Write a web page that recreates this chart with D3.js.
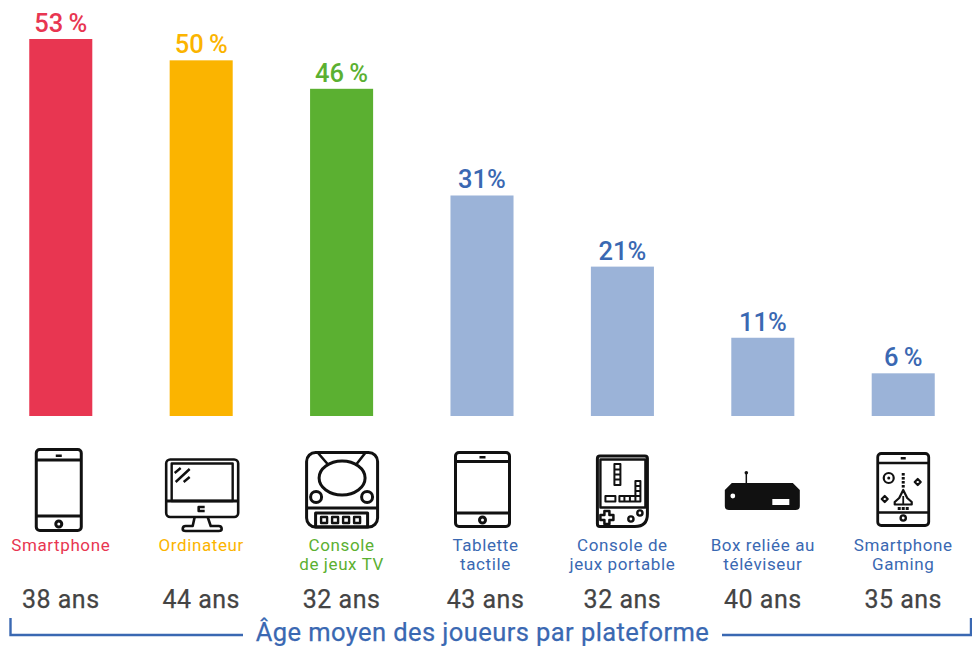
<!DOCTYPE html>
<html><head><meta charset="utf-8">
<script src="https://cdn.jsdelivr.net/npm/d3@7"></script>
<style>html,body{margin:0;background:#fff}svg{display:block}text{font-family:Roboto,sans-serif}</style>
</head><body><svg id="c" width="972" height="646"></svg>
<script>
const categories=["Smartphone","Ordinateur","Console de jeux TV","Tablette tactile","Console de jeux portable","Box reliée au téléviseur","Smartphone Gaming"];
const labelLines=[["Smartphone"],["Ordinateur"],["Console","de jeux TV"],["Tablette","tactile"],["Console de","jeux portable"],["Box reliée au","téléviseur"],["Smartphone","Gaming"]];
const shares=[53,50,46,31,21,11,6];
const shareLabels=["53\u2009%","50\u2009%","46\u2009%","31%","21%","11%","6\u2009%"];
const ages=[38,44,32,43,32,40,35];
const barColors=["#e83651","#fbb400","#5bb031","#9bb3d8","#9bb3d8","#9bb3d8","#9bb3d8"];
const textColors=["#e83651","#fbb400","#5bb031","#3a68b2","#3a68b2","#3a68b2","#3a68b2"];
const axisTitle="Âge moyen des joueurs par plateforme";
const blue="#3a68b2",ink="#111";

const svg=d3.select("#c");
const x=d3.scaleBand().domain(categories).range([-9.5,973.5]).paddingInner(0.551).paddingOuter(0.276);
const y=d3.scaleLinear().domain([0,53]).range([416,39]);
const cx=c=>x(c)+x.bandwidth()/2;
// The tablet column's texts sit slightly right of its bar in the reference
const textX=(c,i)=>cx(c)+(i===3?3.5:0);

svg.selectAll("rect.bar").data(categories).join("rect").attr("class","bar")
 .attr("x",c=>x(c)).attr("width",x.bandwidth())
 .attr("y",(c,i)=>y(shares[i])).attr("height",(c,i)=>y(0)-y(shares[i]))
 .attr("fill",(c,i)=>barColors[i]);

svg.selectAll("text.val").data(categories).join("text").attr("class","val")
 .attr("x",cx).attr("y",(c,i)=>y(shares[i])-7)
 .attr("text-anchor","middle").attr("font-size",25.5).attr("font-weight",500)
 .attr("fill",(c,i)=>textColors[i]).text((c,i)=>shareLabels[i]);

svg.selectAll("text.cat").data(categories).join("text").attr("class","cat")
 .attr("text-anchor","middle").attr("font-size",17).attr("letter-spacing",0.6)
 .attr("fill",(c,i)=>textColors[i])
 .each(function(c,i){
   d3.select(this).selectAll("tspan").data(labelLines[i]).join("tspan")
    .attr("x",textX(c,i)).attr("y",(l,k)=>551+k*19).text(l=>l);
 });

svg.selectAll("text.age").data(categories).join("text").attr("class","age")
 .attr("x",textX).attr("y",608).attr("text-anchor","middle").attr("font-size",25).attr("letter-spacing",0.5)
 .attr("stroke","#444").attr("stroke-width",0.25)
 .attr("fill","#444").text((c,i)=>ages[i]+" ans");

svg.append("text").attr("x",482.5).attr("y",640.5).attr("text-anchor","middle")
 .attr("font-size",25.5).attr("letter-spacing",0.42).attr("stroke",blue).attr("stroke-width",0.25).attr("fill",blue).text(axisTitle);
const br=d3.path();br.moveTo(10.5,618);br.lineTo(10.5,635);br.lineTo(243,635);
br.moveTo(722,635);br.lineTo(971,635);br.lineTo(971,618);
svg.append("path").attr("d",br.toString()).attr("fill","none").attr("stroke",blue).attr("stroke-width",2.4);

// Pictograms, each drawn in local coordinates around its own origin
const icon=(i,dx,top)=>svg.append("g")
  .attr("transform",`translate(${cx(categories[i])+dx},${top})`)
  .attr("fill","none").attr("stroke",ink).attr("stroke-width",3).attr("stroke-linejoin","round");
const R=(g,a,b,w,h,r=0,o={})=>{const e=g.append("rect").attr("x",a).attr("y",b).attr("width",w).attr("height",h).attr("rx",r);for(const k in o)e.attr(k,o[k]);return e;};
const L=(g,d,o={})=>{const e=g.append("path").attr("d",d);for(const k in o)e.attr(k,o[k]);return e;};
const C=(g,a,b,r,o={})=>{const e=g.append("circle").attr("cx",a).attr("cy",b).attr("r",r);for(const k in o)e.attr(k,o[k]);return e;};
const solid={fill:ink,stroke:"none"};

// Smartphone
{const g=icon(0,-2,448);
 R(g,-22.5,1.5,45,81,3.5);
 L(g,"M-22.5 12H22.5M-22.5 68H22.5");
 R(g,-3,6.5,6,2.5,0,solid);
 C(g,0,76,3);}
// Ordinateur
{const g=icon(1,0.5,458);
 R(g,-35.5,1.5,72,57.5,4,{"stroke-width":2.6});
 R(g,-30,5.5,61,37.5,0,{"stroke-width":2.4});
 L(g,"M-35.5 43H36.5",{"stroke-width":3});
 L(g,"M-27 15L-21 10M-26 24L-12 11M-18 24L-12 19",{"stroke-width":2.4});
 L(g,"M3 49H-3V53H3",{"stroke-width":2.6});
 L(g,"M-7 59L-9 68H-16Q-19 68 -19 71Q-19 73 -16 73H17Q20 73 20 71Q20 68 17 68H9L6 59",{"stroke-width":2.6});}
// Console TV
{const g=icon(2,0,451);
 R(g,-35,1.5,71,74.5,9);
 L(g,"M-35 57H36");
 g.append("ellipse").attr("cx",0.5).attr("cy",27).attr("rx",23).attr("ry",17);
 L(g,"M-24 1.5L-14 13M24 1.5L15 13",{"stroke-width":2.6});
 C(g,-25.5,46,5.5,{fill:"#fff"});C(g,25.5,46,5.5,{fill:"#fff"});
 R(g,-26,62,52,14,0);
 [-20.5,-9.5,1.5,12.5].forEach(v=>R(g,v,66,6,6,0,{"stroke-width":2.4}));}
// Tablette
{const g=icon(3,0.5,451);
 R(g,-27,1.5,54,74,3.5);
 L(g,"M-27 10.5H27M-27 62H27");
 R(g,-3,5,6,2.5,0,solid);
 C(g,0,69,3);}
// Console portable
{const g=icon(4,0,455);
 L(g,"M-22.5 1H22.5Q25 1 25 3.5V59Q25 71.5 12.5 71.5H-22.5Q-25 71.5 -25 69V3.5Q-25 1 -22.5 1Z");
 R(g,-22,4.5,45,48,0,{"stroke-width":2.4});
 L(g,"M-8 9H-2V30H-8ZM-8 14.5H-2M-8 19.5H-2M-8 24.5H-2",{"stroke-width":2});
 R(g,-17,41,10,5.5,0,{"stroke-width":2});
 L(g,"M-3 41H18V46.5H-3ZM2 41V46.5M7.5 41V46.5M13 41V46.5M13 41V26H18V41M13 31H18M13 36H18",{"stroke-width":2});
 L(g,"M-18 56H-13V60H-9V65H-13V69H-18V65H-22V60H-18Z",{"stroke-width":2.5});
 C(g,8.5,64,2.6,{"stroke-width":2.4});C(g,17.5,58,2.6,{"stroke-width":2.4});}
// Box
{const g=icon(5,0,470);
 L(g,"M-16.5 3V14",{"stroke-width":1.5});
 C(g,-16.5,2.8,1.8,solid);
 L(g,"M-31 13H30L37 20V36Q37 40 33 40H-34Q-38 40 -38 36V20Z",solid);
 C(g,-30,26,2.4,{fill:"#fff",stroke:"none"});
 R(g,9.5,29,17,6,0,{fill:"#fff",stroke:"none"});}
// Smartphone Gaming
{const g=icon(6,0,452);
 R(g,-25.5,1.5,51,72,3.5,{"stroke-width":2.8});
 L(g,"M-25.5 11H25.5M-25.5 60.5H25.5",{"stroke-width":2.5});
 R(g,-2.5,5,5,2.5,0,solid);
 C(g,0,66,2.6,{"stroke-width":2.4});
 C(g,-14.5,26,5,{"stroke-width":2.2});C(g,-14.5,26,1.5,solid);
 [21,25,29,33].forEach(v=>R(g,-1.5,v,3,2.6,0,solid));
 L(g,"M0 38L4 46L8.5 50V52.5H-8.5V50L-4 46Z",{"stroke-width":2.2});
 L(g,"M0 44V52",{"stroke-width":1.8});
 [-5.5,-1.5,2.5].forEach(v=>R(g,v,55,3,3,0,solid));
 [[14.5,30],[-18.5,47]].forEach(p=>L(g,`M${p[0]} ${p[1]-3}l3 3l-3 3l-3 -3Z`,{"stroke-width":2.2}));}
</script></body></html>
